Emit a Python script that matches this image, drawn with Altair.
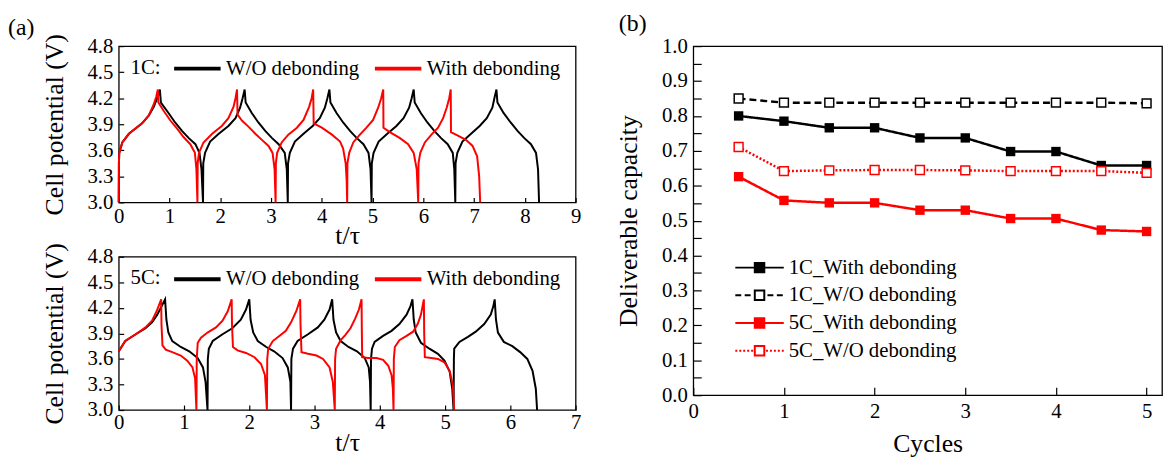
import altair as alt
import pandas as pd

FONT = "Liberation Serif"
RED = "#ff0000"

# ---------------- panel (a), 1C ----------------
T_1C_WO = [0.000, 0.003, 0.010, 0.070, 0.200, 0.330, 0.460, 0.590, 0.690, 0.770, 0.810,
           0.830, 0.980, 1.110, 1.250, 1.380, 1.510, 1.590, 1.630, 1.660,
           1.665, 1.700, 1.800, 1.970, 2.160, 2.300, 2.390, 2.440, 2.480,
           2.500, 2.620, 2.750, 2.890, 3.020, 3.150, 3.270, 3.310, 3.330,
           3.335, 3.370, 3.470, 3.640, 3.820, 3.960, 4.060, 4.110, 4.150,
           4.170, 4.290, 4.420, 4.560, 4.690, 4.820, 4.920, 4.960, 4.980,
           4.985, 5.020, 5.120, 5.290, 5.470, 5.610, 5.720, 5.770, 5.810,
           5.830, 5.950, 6.080, 6.220, 6.350, 6.480, 6.580, 6.610, 6.630,
           6.635, 6.670, 6.770, 6.940, 7.110, 7.250, 7.360, 7.400, 7.440,
           7.460, 7.580, 7.720, 7.860, 7.990, 8.120, 8.220, 8.260, 8.280]
V_1C_WO = [3.00, 3.45, 3.57, 3.69, 3.79, 3.85, 3.91, 4.00, 4.10, 4.22, 4.30,
           4.15, 4.03, 3.92, 3.82, 3.74, 3.67, 3.57, 3.38, 3.00,
           3.45, 3.57, 3.70, 3.79, 3.88, 3.97, 4.09, 4.20, 4.30,
           4.15, 4.03, 3.92, 3.82, 3.74, 3.67, 3.57, 3.38, 3.00,
           3.45, 3.57, 3.70, 3.79, 3.88, 3.97, 4.09, 4.20, 4.30,
           4.15, 4.03, 3.92, 3.82, 3.74, 3.67, 3.57, 3.38, 3.00,
           3.45, 3.57, 3.70, 3.79, 3.88, 3.97, 4.09, 4.20, 4.30,
           4.15, 4.03, 3.92, 3.82, 3.74, 3.67, 3.57, 3.38, 3.00,
           3.45, 3.57, 3.70, 3.79, 3.88, 3.97, 4.09, 4.20, 4.30,
           4.15, 4.03, 3.92, 3.82, 3.74, 3.67, 3.57, 3.38, 3.00]

T_1C_W = [0.000, 0.003, 0.010, 0.070, 0.200, 0.330, 0.460, 0.590, 0.690, 0.740, 0.770,
          0.780, 0.890, 1.020, 1.150, 1.280, 1.410, 1.500, 1.530, 1.550,
          1.555, 1.580, 1.670, 1.840, 2.030, 2.160, 2.260, 2.300, 2.330,
          2.340, 2.430, 2.560, 2.690, 2.820, 2.950, 3.030, 3.070, 3.090,
          3.095, 3.120, 3.210, 3.340, 3.510, 3.640, 3.750, 3.800, 3.830,
          3.840, 4.000, 4.200, 4.360, 4.420, 4.470, 4.490, 4.500,
          4.505, 4.540, 4.620, 4.750, 4.880, 5.010, 5.110, 5.170, 5.210,
          5.215, 5.340, 5.540, 5.700, 5.810, 5.870, 5.900,
          5.905, 5.940, 6.030, 6.160, 6.290, 6.390, 6.460, 6.510, 6.540,
          6.545, 6.680, 6.840, 6.970, 7.060, 7.100, 7.120]
V_1C_W = [3.00, 3.45, 3.57, 3.69, 3.79, 3.85, 3.91, 4.00, 4.13, 4.22, 4.30,
          4.15, 4.05, 3.94, 3.85, 3.75, 3.67, 3.57, 3.38, 3.00,
          3.45, 3.57, 3.69, 3.79, 3.88, 3.97, 4.10, 4.20, 4.30,
          4.01, 3.94, 3.87, 3.79, 3.72, 3.65, 3.57, 3.38, 3.00,
          3.45, 3.57, 3.69, 3.78, 3.86, 3.95, 4.10, 4.20, 4.30,
          3.91, 3.86, 3.78, 3.70, 3.62, 3.45, 3.25, 3.00,
          3.45, 3.57, 3.69, 3.78, 3.86, 3.95, 4.09, 4.20, 4.30,
          3.86, 3.81, 3.74, 3.67, 3.57, 3.38, 3.00,
          3.45, 3.57, 3.69, 3.78, 3.86, 3.97, 4.09, 4.20, 4.30,
          3.81, 3.77, 3.72, 3.65, 3.53, 3.30, 3.00]

# ---------------- panel (a), 5C ----------------
T_5C_WO = [0.000, 0.100, 0.260, 0.410, 0.510, 0.590, 0.670, 0.710,
           0.720, 0.730, 0.760, 0.820, 0.950, 1.080, 1.210, 1.290, 1.330, 1.360,
           1.365, 1.380, 1.440, 1.590, 1.740, 1.870, 1.950, 2.000,
           2.010, 2.020, 2.060, 2.130, 2.260, 2.380, 2.510, 2.590, 2.630, 2.640,
           2.645, 2.670, 2.740, 2.900, 3.050, 3.150, 3.230, 3.270,
           3.280, 3.290, 3.330, 3.400, 3.520, 3.650, 3.770, 3.830, 3.850, 3.860,
           3.865, 3.880, 3.920, 4.050, 4.180, 4.300, 4.410, 4.470, 4.500,
           4.510, 4.520, 4.550, 4.630, 4.760, 4.890, 4.990, 5.070, 5.110, 5.130,
           5.135, 5.140, 5.220, 5.350, 5.470, 5.600, 5.700, 5.740, 5.760,
           5.770, 5.780, 5.810, 5.900, 6.030, 6.150, 6.260, 6.340, 6.390, 6.410]
V_5C_WO = [3.69, 3.81, 3.89, 3.96, 4.03, 4.12, 4.24, 4.30,
           4.18, 4.06, 3.91, 3.81, 3.74, 3.69, 3.61, 3.50, 3.33, 3.00,
           3.60, 3.72, 3.81, 3.89, 3.96, 4.06, 4.18, 4.30,
           4.18, 4.06, 3.91, 3.81, 3.74, 3.69, 3.61, 3.50, 3.33, 3.00,
           3.60, 3.72, 3.81, 3.89, 3.97, 4.06, 4.18, 4.30,
           4.18, 4.06, 3.91, 3.81, 3.74, 3.69, 3.61, 3.50, 3.33, 3.00,
           3.60, 3.72, 3.80, 3.87, 3.93, 4.01, 4.12, 4.22, 4.30,
           4.18, 4.06, 3.91, 3.79, 3.72, 3.66, 3.58, 3.45, 3.25, 3.00,
           3.60, 3.72, 3.80, 3.86, 3.92, 4.01, 4.12, 4.22, 4.30,
           4.18, 4.06, 3.91, 3.80, 3.75, 3.68, 3.60, 3.46, 3.25, 3.00]

T_5C_W = [0.000, 0.100, 0.260, 0.410, 0.510, 0.580, 0.650,
          0.655, 0.670, 0.720, 0.820, 0.950, 1.050, 1.130, 1.170, 1.190,
          1.195, 1.210, 1.260, 1.360, 1.490, 1.590, 1.670, 1.730,
          1.735, 1.750, 1.820, 1.950, 2.080, 2.180, 2.240, 2.270,
          2.275, 2.290, 2.360, 2.460, 2.560, 2.640, 2.720, 2.780,
          2.785, 2.800, 2.900, 3.030, 3.130, 3.230, 3.280, 3.310,
          3.315, 3.330, 3.400, 3.470, 3.550, 3.620, 3.680, 3.720,
          3.725, 3.730, 3.820, 3.950, 4.050, 4.130, 4.180, 4.200, 4.210,
          4.215, 4.230, 4.300, 4.410, 4.510, 4.580, 4.630, 4.675,
          4.680, 4.690, 4.790, 4.890, 4.990, 5.070, 5.120, 5.140]
V_5C_W = [3.69, 3.81, 3.89, 3.97, 4.05, 4.16, 4.30,
          4.00, 3.76, 3.71, 3.68, 3.64, 3.58, 3.50, 3.37, 3.00,
          3.60, 3.79, 3.85, 3.91, 3.97, 4.05, 4.16, 4.30,
          4.00, 3.74, 3.70, 3.67, 3.62, 3.54, 3.41, 3.00,
          3.60, 3.72, 3.81, 3.87, 3.93, 4.03, 4.16, 4.30,
          4.00, 3.68, 3.66, 3.64, 3.60, 3.50, 3.33, 3.00,
          3.60, 3.72, 3.82, 3.88, 3.96, 4.07, 4.18, 4.30,
          3.90, 3.62, 3.61, 3.61, 3.59, 3.52, 3.41, 3.25, 3.00,
          3.60, 3.74, 3.82, 3.87, 3.92, 4.01, 4.12, 4.30,
          3.90, 3.62, 3.61, 3.60, 3.56, 3.46, 3.29, 3.00]

SERIES_A = ["W/O debonding", "With debonding"]
X_TICKS_1C = [0, 1, 2, 3, 4, 5, 6, 7, 8, 9]
X_TICKS_5C = [0, 1, 2, 3, 4, 5, 6, 7]
Y_TICKS_A = [3.0, 3.3, 3.6, 3.9, 4.2, 4.5, 4.8]

# ---------------- panel (b) ----------------
CYCLES = [0.5, 1.0, 1.5, 2.0, 2.5, 3.0, 3.5, 4.0, 4.5, 5.0]
CAP_1C_WITH = [0.800, 0.785, 0.766, 0.766, 0.737, 0.737, 0.698, 0.698, 0.658, 0.658]
CAP_1C_WO = [0.850, 0.838, 0.838, 0.838, 0.838, 0.838, 0.838, 0.838, 0.838, 0.836]
CAP_5C_WITH = [0.626, 0.558, 0.551, 0.551, 0.530, 0.530, 0.506, 0.506, 0.473, 0.469]
CAP_5C_WO = [0.711, 0.642, 0.644, 0.645, 0.645, 0.644, 0.642, 0.642, 0.642, 0.637]

SERIES_B = ["1C_With debonding", "1C_W/O debonding", "5C_With debonding", "5C_W/O debonding"]
X_TICKS_B = [0, 1, 2, 3, 4, 5]
Y_TICKS_B = [0.0, 0.05, 0.1, 0.15, 0.2, 0.25, 0.3, 0.35, 0.4, 0.45, 0.5,
             0.55, 0.6, 0.65, 0.7, 0.75, 0.8, 0.85, 0.9, 0.95, 1.0]

# styles
COLORS_A = ["black", RED]
LINE_PATH_A = "M-4.7,0H4.7"
COLORS_B = ["black", "black", RED, RED]
FILLS_B = ["black", "white", RED, "white"]
PATHS_B = [
    "M-2.45,0H2.45M-0.48,-0.48H0.48V0.48H-0.48Z",
    "M-2.45,0H-1.85M-1.5,0H-0.9M0.8,0H1.4M1.75,0H2.35M-0.48,-0.48H0.48V0.48H-0.48Z",
    "M-2.45,0H2.45M-0.48,-0.48H0.48V0.48H-0.48Z",
    "M-2.45,0H-2.25M-2.05,0H-1.85M-1.65,0H-1.45M-1.25,0H-1.05M-0.85,0H-0.65"
    "M0.65,0H0.85M1.05,0H1.25M1.45,0H1.65M1.85,0H2.05M2.25,0H2.45"
    "M-0.48,-0.48H0.48V0.48H-0.48Z",
]
# the drawn marks use a differently ordered domain so their (hidden) guides stay apart
SERIES_B_DRAW = [SERIES_B[1], SERIES_B[0], SERIES_B[3], SERIES_B[2]]
COLORS_B_DRAW = ["black", "black", RED, RED]
DASHES_B_DRAW = [[7, 4], [1, 0], [2, 2], [1, 0]]


def frame_a(pairs):
    rows = []
    for name, ts, vs in pairs:
        for i, (t, v) in enumerate(zip(ts, vs)):
            rows.append({"t": t, "v": v, "s": name, "o": i})
    return pd.DataFrame(rows)


df_1c = frame_a([(SERIES_A[0], T_1C_WO, V_1C_WO), (SERIES_A[1], T_1C_W, V_1C_W)])
df_5c = frame_a([(SERIES_A[0], T_5C_WO, V_5C_WO), (SERIES_A[1], T_5C_W, V_5C_W)])

rows_b = []
for name, caps in zip(SERIES_B, [CAP_1C_WITH, CAP_1C_WO, CAP_5C_WITH, CAP_5C_WO]):
    for c, v in zip(CYCLES, caps):
        rows_b.append({"cycle": c, "cap": v, "series": name})
df_b = pd.DataFrame(rows_b)


def panel_a(df, xmax, xticks, legend_title, height, xlabpad, xtitlepad):
    legend = alt.Legend(
        title=legend_title, orient="none", legendX=12, legendY=12,
        direction="horizontal", titleOrient="left", titlePadding=26,
        titleBaseline="middle", titleAnchor="middle",
        symbolType=LINE_PATH_A, symbolSize=100, symbolStrokeWidth=4, symbolOffset=0,
        labelOffset=18.5, columnPadding=7, padding=0,
        labelFont=FONT, labelFontSize=21, labelColor="black",
        titleFont=FONT, titleFontSize=21, titleFontWeight="normal", titleColor="black",
        labelLimit=400,
    )
    return alt.Chart(df).mark_line(strokeWidth=2).encode(
        x=alt.X("t:Q", scale=alt.Scale(domain=[0, xmax], nice=False, zero=False),
                axis=alt.Axis(values=xticks, format="d", title="t/τ", tickSize=5, offset=-5,
                              labelPadding=xlabpad, titlePadding=xtitlepad)),
        y=alt.Y("v:Q", scale=alt.Scale(domain=[3.0, 4.8], nice=False, zero=False),
                axis=alt.Axis(values=Y_TICKS_A, format=".1f", title="Cell potential (V)",
                              tickSize=5, offset=-5, labelPadding=6, titlePadding=20)),
        color=alt.Color("s:N", scale=alt.Scale(domain=SERIES_A, range=COLORS_A), legend=legend),
        order=alt.Order("o:Q"),
    ).properties(width=462, height=height)


top = panel_a(df_1c, 9, X_TICKS_1C, "1C:", 158, 3, -3)
bottom = panel_a(df_5c, 7, X_TICKS_5C, "5C:", 155, 2, -3)

# ---------------- panel (b) chart ----------------
xb = alt.X("cycle:Q", scale=alt.Scale(domain=[0, 5.17], nice=False, zero=False),
           axis=alt.Axis(values=X_TICKS_B, format="d", title="Cycles", tickSize=8, offset=-8,
                         labelPadding=6, titlePadding=9))
yb = alt.Y("cap:Q", scale=alt.Scale(domain=[0, 1], nice=False, zero=False),
           axis=alt.Axis(values=Y_TICKS_B, title="Deliverable capacity", tickSize=8, offset=-8,
                         labelPadding=6, titlePadding=20,
                         labelExpr="abs(datum.value*10 - round(datum.value*10)) < 0.001 ? format(datum.value, '.1f') : ''"))
color_b = alt.Scale(domain=SERIES_B_DRAW, range=COLORS_B_DRAW)

base_b = alt.Chart(df_b)
lines_b = base_b.mark_line(strokeWidth=2.5).encode(
    x=xb, y=yb,
    color=alt.Color("series:N", scale=color_b, legend=None),
    strokeDash=alt.StrokeDash("series:N", scale=alt.Scale(domain=SERIES_B_DRAW, range=DASHES_B_DRAW), legend=None),
)
filled_b = base_b.transform_filter(
    alt.FieldOneOfPredicate(field="series", oneOf=[SERIES_B[0], SERIES_B[2]])
).mark_point(shape="square", filled=True, size=90, opacity=1).encode(
    x=xb, y=yb, color=alt.Color("series:N", scale=color_b, legend=None))
open_b = base_b.transform_filter(
    alt.FieldOneOfPredicate(field="series", oneOf=[SERIES_B[1], SERIES_B[3]])
).mark_point(shape="square", filled=False, fill="white", size=80, strokeWidth=1.5, opacity=1).encode(
    x=xb, y=yb, color=alt.Color("series:N", scale=color_b, legend=None))

leg_b = alt.Legend(
    title=None, orient="none", legendX=56, legendY=213, symbolSize=400,
    symbolStrokeWidth=2, symbolOffset=0, labelOffset=18.5, rowPadding=7, padding=0,
    labelFont=FONT, labelFontSize=21, labelColor="black", symbolFillColor="white",
    symbolOpacity=1, labelLimit=400,
)
legend_layer = base_b.transform_filter("datum.cap < -1").mark_point(
    filled=False, opacity=1, strokeWidth=2).encode(
    x=xb, y=yb,
    stroke=alt.Stroke("series:N", scale=alt.Scale(domain=SERIES_B, range=COLORS_B), legend=leg_b),
    fill=alt.Fill("series:N", scale=alt.Scale(domain=SERIES_B, range=FILLS_B), legend=leg_b),
    shape=alt.Shape("series:N", scale=alt.Scale(domain=SERIES_B, range=PATHS_B), legend=leg_b),
)

right = alt.layer(lines_b, filled_b, open_b, legend_layer).properties(
    width=474, height=353,
    title=alt.Title("(b)", anchor="start", frame="bounds", fontSize=24, font=FONT,
                    fontWeight="normal", color="black", dx=3, offset=-1),
)

left = alt.vconcat(top, bottom, spacing=-8).properties(
    title=alt.Title("(a)", anchor="start", frame="bounds", fontSize=24, font=FONT,
                    fontWeight="normal", color="black", dx=-33, offset=-7),
).resolve_scale(color="independent").resolve_legend(color="independent")

chart = alt.hconcat(left, right, spacing=34).properties(
    padding={"left": 0, "top": 1, "right": 0, "bottom": 0}
).resolve_scale(
    color="independent", stroke="independent", fill="independent",
    shape="independent", strokeDash="independent",
).resolve_legend(
    color="independent", stroke="independent", fill="independent",
    shape="independent", strokeDash="independent",
).configure_axis(
    labelFont=FONT, titleFont=FONT, labelFontSize=21, titleFontSize=26,
    titleFontWeight="normal", labelColor="black", titleColor="black",
    tickColor="black", tickWidth=1.2, grid=False, domain=False,
    labelFlush=False, labelOverlap=False,
).configure_view(stroke="black", strokeWidth=1.3)

chart.save("out.html", embed_options={"renderer": "svg", "actions": False})
